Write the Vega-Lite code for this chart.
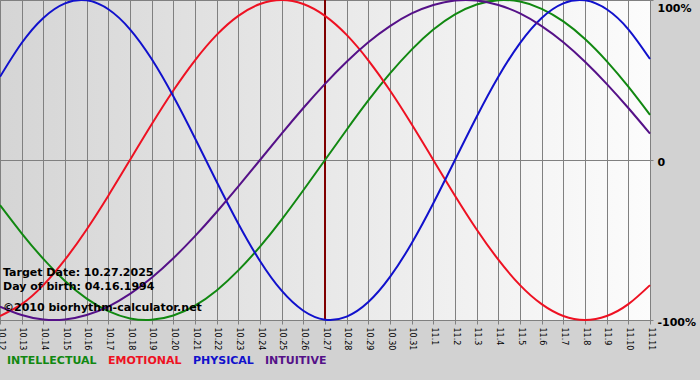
{
  "$schema": "https://vega.github.io/schema/vega-lite/v6.json",
  "width": 650,
  "height": 320,
  "autosize": {"type": "none"},
  "padding": {"left": 0, "top": 0, "right": 50, "bottom": 60},
  "background": "#d2d2d2",
  "config": {
    "font": "DejaVu Sans",
    "view": {
      "stroke": "#808080",
      "fill": {"gradient": "linear", "x1": 0, "y1": 0, "x2": 1, "y2": 0,
        "stops": [{"offset": 0, "color": "#d5d5d5"}, {"offset": 1, "color": "#fcfcfc"}]}
    },
    "axisX": {
      "grid": true, "gridColor": "#808080", "gridOpacity": 1, "gridWidth": 1,
      "tickColor": "#808080", "tickSize": 4, "domainColor": "#808080",
      "labelAngle": 90, "labelAlign": "left", "labelBaseline": "middle",
      "labelFontSize": 8, "labelColor": "black", "labelPadding": 3,
      "labelFlush": false, "labelOverlap": false
    },
    "axisY": {
      "grid": true, "gridColor": "#808080", "gridOpacity": 1, "gridWidth": 1,
      "tickColor": "#808080", "tickSize": 3, "domainColor": "#808080",
      "labelFontSize": 11, "labelFontWeight": "bold", "labelColor": "black", "labelPadding": 4
    }
  },
  "data": {"values": [
    {"date": "2025-10-12T00:00:00", "INTELLECTUAL": -0.282, "EMOTIONAL": -0.975, "PHYSICAL": 0.520, "INTUITIVE": -0.916},
    {"date": "2025-10-13T00:00:00", "INTELLECTUAL": -0.458, "EMOTIONAL": -0.901, "PHYSICAL": 0.731, "INTUITIVE": -0.969},
    {"date": "2025-10-14T00:00:00", "INTELLECTUAL": -0.618, "EMOTIONAL": -0.782, "PHYSICAL": 0.888, "INTUITIVE": -0.997},
    {"date": "2025-10-15T00:00:00", "INTELLECTUAL": -0.756, "EMOTIONAL": -0.623, "PHYSICAL": 0.979, "INTUITIVE": -0.997},
    {"date": "2025-10-16T00:00:00", "INTELLECTUAL": -0.866, "EMOTIONAL": -0.434, "PHYSICAL": 0.998, "INTUITIVE": -0.969},
    {"date": "2025-10-17T00:00:00", "INTELLECTUAL": -0.945, "EMOTIONAL": -0.223, "PHYSICAL": 0.942, "INTUITIVE": -0.916},
    {"date": "2025-10-18T00:00:00", "INTELLECTUAL": -0.990, "EMOTIONAL": 0.0, "PHYSICAL": 0.817, "INTUITIVE": -0.837},
    {"date": "2025-10-19T00:00:00", "INTELLECTUAL": -0.999, "EMOTIONAL": 0.223, "PHYSICAL": 0.631, "INTUITIVE": -0.736},
    {"date": "2025-10-20T00:00:00", "INTELLECTUAL": -0.972, "EMOTIONAL": 0.434, "PHYSICAL": 0.398, "INTUITIVE": -0.614},
    {"date": "2025-10-21T00:00:00", "INTELLECTUAL": -0.910, "EMOTIONAL": 0.623, "PHYSICAL": 0.136, "INTUITIVE": -0.476},
    {"date": "2025-10-22T00:00:00", "INTELLECTUAL": -0.815, "EMOTIONAL": 0.782, "PHYSICAL": -0.136, "INTUITIVE": -0.325},
    {"date": "2025-10-23T00:00:00", "INTELLECTUAL": -0.690, "EMOTIONAL": 0.901, "PHYSICAL": -0.398, "INTUITIVE": -0.165},
    {"date": "2025-10-24T00:00:00", "INTELLECTUAL": -0.541, "EMOTIONAL": 0.975, "PHYSICAL": -0.631, "INTUITIVE": 0.0},
    {"date": "2025-10-25T00:00:00", "INTELLECTUAL": -0.372, "EMOTIONAL": 1.0, "PHYSICAL": -0.817, "INTUITIVE": 0.165},
    {"date": "2025-10-26T00:00:00", "INTELLECTUAL": -0.189, "EMOTIONAL": 0.975, "PHYSICAL": -0.942, "INTUITIVE": 0.325},
    {"date": "2025-10-27T00:00:00", "INTELLECTUAL": 0.0, "EMOTIONAL": 0.901, "PHYSICAL": -0.998, "INTUITIVE": 0.476},
    {"date": "2025-10-28T00:00:00", "INTELLECTUAL": 0.189, "EMOTIONAL": 0.782, "PHYSICAL": -0.979, "INTUITIVE": 0.614},
    {"date": "2025-10-29T00:00:00", "INTELLECTUAL": 0.372, "EMOTIONAL": 0.623, "PHYSICAL": -0.888, "INTUITIVE": 0.736},
    {"date": "2025-10-30T00:00:00", "INTELLECTUAL": 0.541, "EMOTIONAL": 0.434, "PHYSICAL": -0.731, "INTUITIVE": 0.837},
    {"date": "2025-10-31T00:00:00", "INTELLECTUAL": 0.690, "EMOTIONAL": 0.223, "PHYSICAL": -0.520, "INTUITIVE": 0.916},
    {"date": "2025-11-01T00:00:00", "INTELLECTUAL": 0.815, "EMOTIONAL": 0.0, "PHYSICAL": -0.270, "INTUITIVE": 0.969},
    {"date": "2025-11-02T00:00:00", "INTELLECTUAL": 0.910, "EMOTIONAL": -0.223, "PHYSICAL": 0.0, "INTUITIVE": 0.997},
    {"date": "2025-11-03T00:00:00", "INTELLECTUAL": 0.972, "EMOTIONAL": -0.434, "PHYSICAL": 0.270, "INTUITIVE": 0.997},
    {"date": "2025-11-04T00:00:00", "INTELLECTUAL": 0.999, "EMOTIONAL": -0.623, "PHYSICAL": 0.520, "INTUITIVE": 0.969},
    {"date": "2025-11-05T00:00:00", "INTELLECTUAL": 0.990, "EMOTIONAL": -0.782, "PHYSICAL": 0.731, "INTUITIVE": 0.916},
    {"date": "2025-11-06T00:00:00", "INTELLECTUAL": 0.945, "EMOTIONAL": -0.901, "PHYSICAL": 0.888, "INTUITIVE": 0.837},
    {"date": "2025-11-07T00:00:00", "INTELLECTUAL": 0.866, "EMOTIONAL": -0.975, "PHYSICAL": 0.979, "INTUITIVE": 0.736},
    {"date": "2025-11-08T00:00:00", "INTELLECTUAL": 0.756, "EMOTIONAL": -1.0, "PHYSICAL": 0.998, "INTUITIVE": 0.614},
    {"date": "2025-11-09T00:00:00", "INTELLECTUAL": 0.618, "EMOTIONAL": -0.975, "PHYSICAL": 0.942, "INTUITIVE": 0.476},
    {"date": "2025-11-10T00:00:00", "INTELLECTUAL": 0.458, "EMOTIONAL": -0.901, "PHYSICAL": 0.817, "INTUITIVE": 0.325},
    {"date": "2025-11-11T00:00:00", "INTELLECTUAL": 0.282, "EMOTIONAL": -0.782, "PHYSICAL": 0.631, "INTUITIVE": 0.165}
  ]},
  "layer": [
    {
      "data": {"values": [{}]},
      "mark": {"type": "rule", "color": "#800000", "strokeWidth": 2},
      "encoding": {
        "x": {"datum": {"year": 2025, "month": 10, "date": 27}, "type": "temporal", "title": null}
      }
    },
    {
      "transform": [{"fold": ["INTELLECTUAL", "EMOTIONAL", "PHYSICAL", "INTUITIVE"], "as": ["series", "value"]}],
      "mark": {"type": "line", "strokeWidth": 2, "interpolate": "natural"},
      "encoding": {
        "x": {
          "field": "date", "type": "temporal", "title": null,
          "scale": {"domain": [{"year": 2025, "month": 10, "date": 12}, {"year": 2025, "month": 11, "date": 11}], "nice": false},
          "axis": {"format": "%-m.%-d", "tickCount": {"interval": "day", "step": 1}}
        },
        "y": {
          "field": "value", "type": "quantitative", "title": null,
          "scale": {"domain": [-1, 1], "nice": false},
          "axis": {
            "orient": "right", "values": [-1, 0, 1],
            "labelExpr": "datum.value == 1 ? '100%' : datum.value == 0 ? '0' : '-100%'",
            "labelBaseline": {"condition": {"test": "datum.value == 1", "value": "top"}, "value": "middle"},
            "labelOffset": 2
          }
        },
        "color": {
          "field": "series", "type": "nominal",
          "scale": {"domain": ["INTELLECTUAL", "EMOTIONAL", "PHYSICAL", "INTUITIVE"], "range": ["#118811", "#ee1122", "#1111cc", "#551188"]},
          "legend": {
            "orient": "none", "legendX": -4, "legendY": 355, "direction": "horizontal", "title": null,
            "symbolType": "circle", "symbolSize": 1, "symbolStrokeWidth": 0, "symbolOpacity": 0, "labelOffset": 0,
            "labelFontSize": 11, "labelFontWeight": "bold", "labelFont": "DejaVu Sans", "columnPadding": -4,
            "encoding": {"labels": {"fill": {"condition": [
              {"test": "datum.value === 'INTELLECTUAL'", "value": "#118811"},
              {"test": "datum.value === 'EMOTIONAL'", "value": "#ee1122"},
              {"test": "datum.value === 'PHYSICAL'", "value": "#1111cc"}
            ], "value": "#551188"}}}
          }
        }
      }
    },
    {
      "data": {"values": [{}]},
      "mark": {"type": "text", "text": "Target Date: 10.27.2025", "align": "left", "baseline": "alphabetic", "dx": 3, "fontWeight": "bold", "fontSize": 11, "color": "black"},
      "encoding": {
        "x": {"datum": {"year": 2025, "month": 10, "date": 12}, "type": "temporal", "title": null},
        "y": {"datum": -0.725, "type": "quantitative", "title": null}
      }
    },
    {
      "data": {"values": [{}]},
      "mark": {"type": "text", "text": "Day of birth: 04.16.1994", "align": "left", "baseline": "alphabetic", "dx": 3, "fontWeight": "bold", "fontSize": 11, "color": "black"},
      "encoding": {
        "x": {"datum": {"year": 2025, "month": 10, "date": 12}, "type": "temporal", "title": null},
        "y": {"datum": -0.8125, "type": "quantitative", "title": null}
      }
    },
    {
      "data": {"values": [{}]},
      "mark": {"type": "text", "text": "©2010 biorhythm-calculator.net", "align": "left", "baseline": "alphabetic", "dx": 3, "fontWeight": "bold", "fontSize": 11, "color": "black"},
      "encoding": {
        "x": {"datum": {"year": 2025, "month": 10, "date": 12}, "type": "temporal", "title": null},
        "y": {"datum": -0.944, "type": "quantitative", "title": null}
      }
    }
  ]
}
